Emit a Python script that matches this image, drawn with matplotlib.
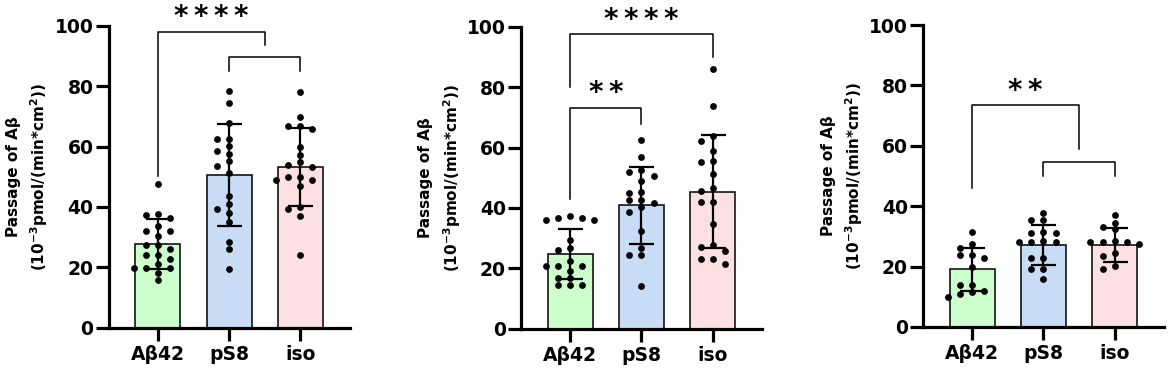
import numpy as np
import matplotlib
matplotlib.use('Agg')
import matplotlib.pyplot as plt

plt.rcParams['font.family'] = 'DejaVu Sans'
plt.rcParams['font.weight'] = 'bold'
plt.rcParams['mathtext.fontset'] = 'custom'
plt.rcParams['mathtext.rm'] = 'DejaVu Sans:bold'
plt.rcParams['mathtext.bf'] = 'DejaVu Sans:bold'
plt.rcParams['mathtext.default'] = 'bf'

# groups on the x axis
groups = ['Aβ42', 'pS8', 'iso']
bar_colors = ['#ccffcc', '#c8dcf5', '#fde0e3']

# panel 1 - individual points, mean and SD
p1_abeta = [47.5, 37.6, 37.3, 36.2, 33.8, 32.0, 32.0, 30.4, 27.5, 27.5,
            26.0, 24.1, 24.1, 22.7, 21.0, 19.8, 19.8, 19.8, 18.0, 15.7]
p1_ps8 = [78.5, 74.3, 67.8, 62.6, 62.6, 60.1, 58.4, 57.5, 55.2, 53.6,
          51.1, 43.6, 41.1, 39.3, 37.9, 35.1, 28.3, 26.0, 19.5]
p1_iso = [78.0, 69.9, 66.9, 66.8, 65.7, 59.8, 57.2, 54.9, 54.0, 53.3,
          49.8, 50.0, 48.9, 48.9, 47.1, 40.1, 39.4, 36.9, 24.1]
p1_mean = [27.7, 50.6, 53.2]
p1_sd = [8.2, 16.8, 13.0]

# panel 2
p2_abeta = [37.4, 36.1, 36.1, 36.6, 36.6, 29.4, 26.6, 26.0, 22.6, 20.9,
            20.9, 20.9, 19.3, 16.8, 16.8, 14.4, 14.4, 14.4]
p2_ps8 = [62.5, 56.9, 52.4, 52.0, 50.6, 49.0, 45.4, 44.9, 42.6, 42.6,
          41.8, 40.4, 38.6, 32.5, 26.8, 24.4, 24.4, 14.3]
p2_iso = [86.0, 73.7, 63.9, 62.0, 58.9, 55.7, 55.1, 51.4, 46.5, 45.7,
          42.1, 42.1, 34.8, 27.0, 27.7, 25.6, 23.0, 23.0, 21.3]
p2_mean = [24.7, 40.9, 45.4]
p2_sd = [8.3, 12.7, 18.6]

# panel 3
p3_abeta = [31.4, 27.4, 26.3, 23.8, 23.8, 22.9, 20.0, 14.0, 13.8, 12.0,
            11.6, 10.9, 10.1]
p3_ps8 = [37.8, 35.5, 35.5, 31.6, 31.0, 31.0, 28.5, 28.2, 28.2, 28.2,
          22.8, 22.8, 19.2, 19.2, 15.8]
p3_iso = [37.1, 34.5, 33.0, 32.3, 28.6, 28.0, 28.0, 28.0, 27.5, 24.5,
          23.5, 20.3, 19.3]
p3_mean = [19.1, 27.3, 27.2]
p3_sd = [7.1, 6.6, 5.6]

# significance brackets: (x_left, x_right, y_top, left leg end, right leg end, stars)
p1_sig = [(0, 1.5, 98.0, 50.3, 93.6, '****'), (1, 2, 89.7, 85.1, 85.1, '')]
p2_sig = [(0, 2, 97.5, 80.0, 90.1, '****'), (0, 1, 73.2, 42.9, 67.8, '**')]
p3_sig = [(0, 1.5, 73.4, 45.9, 58.9, '**'), (1, 2, 54.6, 50.1, 50.1, '')]

panels = [
    ([p1_abeta, p1_ps8, p1_iso], p1_mean, p1_sd, p1_sig, [0.093, 0.126, 0.206, 0.805]),
    ([p2_abeta, p2_ps8, p2_iso], p2_mean, p2_sd, p2_sig, [0.4457, 0.123, 0.206, 0.806]),
    ([p3_abeta, p3_ps8, p3_iso], p3_mean, p3_sd, p3_sig, [0.7896, 0.128, 0.206, 0.805]),
]


def swarm_offsets(vals, step=0.17, gap=2.2):
    # greedy column placement, roughly like the prism scatter layout
    order = np.argsort(vals)[::-1]
    placed = []
    offs = np.zeros(len(vals))
    for i in order:
        v = vals[i]
        for k in [0, -1, 1, -2, 2, -3, 3]:
            if all(not (pk == k and abs(pv - v) < gap) for pk, pv in placed):
                break
        placed.append((k, v))
        offs[i] = k * step
    return offs


fig = plt.figure(figsize=(11.69, 3.75), dpi=100)
x = np.arange(len(groups))

for pts, means, sds, sigs, rect in panels:
    ax = fig.add_axes(rect)
    ax.bar(x, means, width=0.63, color=bar_colors, edgecolor='black',
           linewidth=1.1, zorder=1)
    for i, vals in enumerate(pts):
        vals = np.array(vals)
        ax.scatter(x[i] + swarm_offsets(vals), vals, s=24, color='black',
                   zorder=3, linewidths=0)
    ax.errorbar(x, means, yerr=sds, fmt='none', ecolor='black', elinewidth=1.6,
                capsize=9, capthick=1.6, zorder=4)

    for x1, x2, ytop, yl, yr, label in sigs:
        ax.plot([x1, x1, x2, x2], [yl, ytop, ytop, yr], color='black',
                linewidth=1.1, clip_on=False, zorder=5)
        if label:
            ax.text((x1 + x2) / 2, ytop + 2.2, '\u2009'.join(label), ha='center',
                    va='baseline', fontsize=20, fontweight='bold', clip_on=False)

    ax.set_xlim(-0.69, 2.69)
    ax.set_ylim(0, 100)
    ax.set_yticks([0, 20, 40, 60, 80, 100])
    ax.set_xticks(x)
    ax.set_xticklabels(groups)
    ax.tick_params(axis='both', labelsize=13.5, width=2.3, length=9.5)
    ax.tick_params(axis='y', pad=1.5)
    ax.tick_params(axis='x', pad=3)
    for lab in ax.get_xticklabels() + ax.get_yticklabels():
        lab.set_fontweight('bold')
    ax.spines['top'].set_visible(False)
    ax.spines['right'].set_visible(False)
    ax.spines['left'].set_linewidth(2.3)
    ax.spines['bottom'].set_linewidth(2.3)
    ax.set_ylabel('Passage of Aβ\n(10$^{-3}$pmol/(min*cm$^{2}$))', fontsize=11,
                  fontweight='bold', labelpad=3, linespacing=1.45)

fig.savefig('out.png', dpi=100)
